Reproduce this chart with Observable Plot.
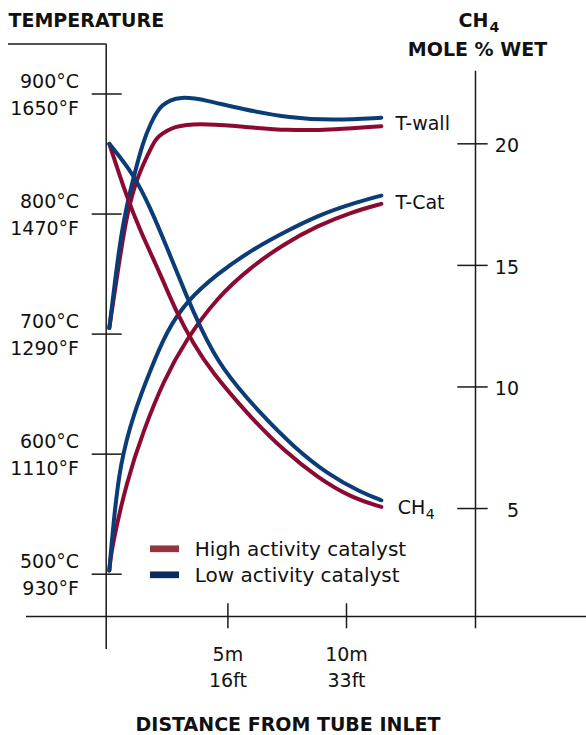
<!DOCTYPE html>
<html><head><meta charset="utf-8">
<script src="https://cdn.jsdelivr.net/npm/d3@7"></script>
<script src="https://cdn.jsdelivr.net/npm/@observablehq/plot@0.6"></script>
<style>html,body{margin:0;padding:0;background:#fff}</style>
</head><body><div id="chart"></div>
<script>
// ---- categories & tick labels ----
const catalysts = ["High activity catalyst", "Low activity catalyst"];
const tempTicksC = [500, 600, 700, 800, 900];
const tempTicksF = ["930°F", "1110°F", "1290°F", "1470°F", "1650°F"];
const ch4Ticks = [5, 10, 15, 20];
const distTicksM = [5, 10];
const distTicksFt = ["16ft", "33ft"];

// ---- series: distance from inlet (m) and value ----
// wall temperature (°C)
const twallHighX = [0, 0.38, 0.74, 1.16, 1.88, 2.02, 2.72, 3.85, 5.11, 7.64, 9.49, 11.47];
const twallHighT = [705, 755.7, 800.2, 830.7, 860, 864, 873.7, 875.5, 873.7, 869.2, 870.4, 873.2];
const twallLowX  = [0, 0.31, 0.59, 1.02, 1.44, 1.74, 2.16, 3.0, 4.13, 5.53, 7.64, 9.49, 11.47];
const twallLowT  = [705, 755.7, 794.6, 830.7, 861.3, 875.2, 891.8, 898.5, 894.6, 887.7, 879.8, 878, 880.2];
// catalyst temperature (°C)
const tcatHighX = [0, 0.10, 0.74, 1.44, 2.29, 3.21, 4.55, 5.96, 7.37, 8.79, 10.20, 11.47];
const tcatHighT = [503, 522.3, 577.9, 619.6, 661.3, 694.6, 730.7, 755.7, 775.2, 790.4, 801.5, 808.5];
const tcatLowX  = [0, 0.17, 0.45, 1.02, 1.72, 2.43, 3.28, 4.55, 5.96, 7.37, 8.79, 10.20, 11.47];
const tcatLowT  = [503, 541.8, 591.8, 633.5, 669.6, 702.9, 727.9, 750.2, 769.6, 784.8, 798.8, 808.5, 815.4];
// methane, mole % wet
const ch4HighX = [0, 0.74, 1.30, 2.15, 2.86, 3.56, 4.27, 5.96, 7.37, 8.79, 10.20, 11.47];
const ch4HighV = [20, 17.80, 16.43, 14.65, 13.00, 11.77, 10.67, 8.74, 7.37, 6.27, 5.45, 5.07];
const ch4LowX  = [0, 1.02, 1.72, 2.43, 3.28, 3.84, 4.69, 6.39, 7.80, 9.21, 10.62, 11.47];
const ch4LowV  = [20, 18.76, 17.39, 15.74, 13.68, 12.45, 10.80, 8.88, 7.51, 6.41, 5.66, 5.34];

// ---- scales ----
const xRange = [108.8, 346];          // 0 m .. 10 m
const yRange = [573.7, 93.5];         // 500 °C .. 900 °C
// right CH4 axis aligned on the temperature scale: 5 % ↔ 554.7 °C, 20 % ↔ 858.5 °C
const ch4ToTemp = d3.scaleLinear([5, 20], [554.7, 858.5]);
// frame geometry helpers (pixel -> data units)
const xPx = d3.scaleLinear(xRange, [0, 10]);
const yPx = d3.scaleLinear(yRange, [500, 900]);

const RED = "#8c0a32", BLUE = "#0a3c78", INK = "#1a1a1a";
const FONT = "DejaVu Sans";

const defs = [
  [catalysts[0], "T-wall", twallHighX, twallHighT, false],
  [catalysts[1], "T-wall", twallLowX, twallLowT, false],
  [catalysts[0], "T-Cat", tcatHighX, tcatHighT, false],
  [catalysts[1], "T-Cat", tcatLowX, tcatLowT, false],
  [catalysts[0], "CH4", ch4HighX, ch4HighV, true],
  [catalysts[1], "CH4", ch4LowX, ch4LowV, true]
];
const rows = defs.flatMap(([cat, name, xs, vs, isCh4]) =>
  xs.map((x, i) => ({catalyst: cat, curve: name, key: cat + name, x, y: isCh4 ? ch4ToTemp(vs[i]) : vs[i]})));

function endAvg(name) {
  const ends = defs.filter(d => d[1] === name).map(d => {
    const v = d[3][d[3].length - 1]; return d[4] ? ch4ToTemp(v) : v; });
  return d3.mean(ends);
}
const endX = d3.max(defs, d => d[2][d[2].length - 1]);

const leftAxisX = xPx(105.7), rightAxisX = xPx(475), xAxisY = yPx(616), topY = yPx(43.5);
const lineStyle = {stroke: INK, strokeWidth: 1.5};
const txt = {fontFamily: FONT, fontSize: 19, fill: "#111", lineAnchor: "bottom"};

const chart = Plot.plot({
  width: 586, height: 735, margin: 0,
  style: {fontFamily: FONT, fontSize: "19px", background: "#fff"},
  x: {domain: [0, 10], range: xRange, axis: null},
  y: {domain: [500, 900], range: yRange, axis: null},
  color: {domain: catalysts, range: [RED, BLUE]},
  marks: [
    // frame
    Plot.ruleY([topY], {x1: xPx(8), x2: leftAxisX, ...lineStyle}),
    Plot.ruleX([leftAxisX], {y1: topY, y2: yPx(649), ...lineStyle}),
    Plot.ruleY([xAxisY], {x1: xPx(26), x2: xPx(586), ...lineStyle}),
    Plot.ruleX([rightAxisX], {y1: yPx(70.7), y2: yPx(628.3), ...lineStyle}),
    // ticks
    Plot.ruleY(tempTicksC, {y: d => d, x1: xPx(91.7), x2: xPx(121.7), ...lineStyle}),
    Plot.ruleY(ch4Ticks, {y: d => ch4ToTemp(d), x1: xPx(457.3), x2: xPx(487.7), ...lineStyle}),
    Plot.ruleX(distTicksM, {x: d => d, y1: yPx(603.3), y2: yPx(628.3), ...lineStyle}),
    // tick labels
    Plot.text(tempTicksC, {x: () => xPx(78.5), y: d => d, text: d => `${d}°C`, textAnchor: "end", dy: -6, ...txt}),
    Plot.text(tempTicksC, {x: () => xPx(78.5), y: d => d, text: (d, i) => tempTicksF[i], textAnchor: "end", dy: 21, ...txt}),
    Plot.text(ch4Ticks, {x: () => xPx(518.5), y: d => ch4ToTemp(d), text: d => String(d), textAnchor: "end", dy: 8.4, ...txt}),
    Plot.text(distTicksM, {x: d => d, y: () => xAxisY, text: d => `${d}m`, textAnchor: "middle", dy: 44, ...txt}),
    Plot.text(distTicksM, {x: d => d, y: () => xAxisY, text: (d, i) => distTicksFt[i], textAnchor: "middle", dy: 70, ...txt}),
    // titles
    Plot.text(["TEMPERATURE"], {frameAnchor: "top-left", text: d => d, textAnchor: "start", dx: 8, dy: 26, fontWeight: "bold", ...txt}),
    Plot.text(["CH"], {frameAnchor: "top-left", text: d => d, textAnchor: "start", dx: 458, dy: 26, fontWeight: "bold", ...txt}),
    Plot.text(["4"], {frameAnchor: "top-left", text: d => d, textAnchor: "start", dx: 489, dy: 31, fontWeight: "bold", ...txt, fontSize: 14}),
    Plot.text(["MOLE % WET"], {frameAnchor: "top-left", text: d => d, textAnchor: "middle", dx: 477, dy: 55, fontWeight: "bold", ...txt}),
    Plot.text(["DISTANCE FROM TUBE INLET"], {frameAnchor: "top-left", text: d => d, textAnchor: "middle", dx: 287.5, dy: 730, fontWeight: "bold", ...txt}),
    // curves
    Plot.line(rows, {x: "x", y: "y", z: "key", stroke: "catalyst", strokeWidth: 4, curve: "basis"}),
    // curve labels
    Plot.text(["T-wall"], {x: () => endX, y: () => endAvg("T-wall"), text: d => d, textAnchor: "start", dx: 14.1, dy: 8.5, ...txt}),
    Plot.text(["T-Cat"], {x: () => endX, y: () => endAvg("T-Cat"), text: d => d, textAnchor: "start", dx: 14.1, dy: 9, ...txt}),
    Plot.text(["CH"], {x: () => endX, y: () => endAvg("CH4"), text: d => d, textAnchor: "start", dx: 16.4, dy: 10.6, ...txt}),
    Plot.text(["4"], {x: () => endX, y: () => endAvg("CH4"), text: d => d, textAnchor: "start", dx: 44.3, dy: 15.6, ...txt, fontSize: 14}),
    // legend
    Plot.ruleY([catalysts[0]], {y: () => yPx(548.3), x1: xPx(150), x2: xPx(179), stroke: "#973241", strokeWidth: 6.7}),
    Plot.ruleY([catalysts[1]], {y: () => yPx(574.3), x1: xPx(150), x2: xPx(179), stroke: "#0a2b60", strokeWidth: 6.7}),
    Plot.text(catalysts, {x: () => xPx(194.3), y: (d, i) => yPx(548.3 + 26 * i), text: d => d, textAnchor: "start", dy: 7, ...txt, fontSize: 20})
  ]
});
document.getElementById("chart").appendChild(chart);
</script>
</body></html>
